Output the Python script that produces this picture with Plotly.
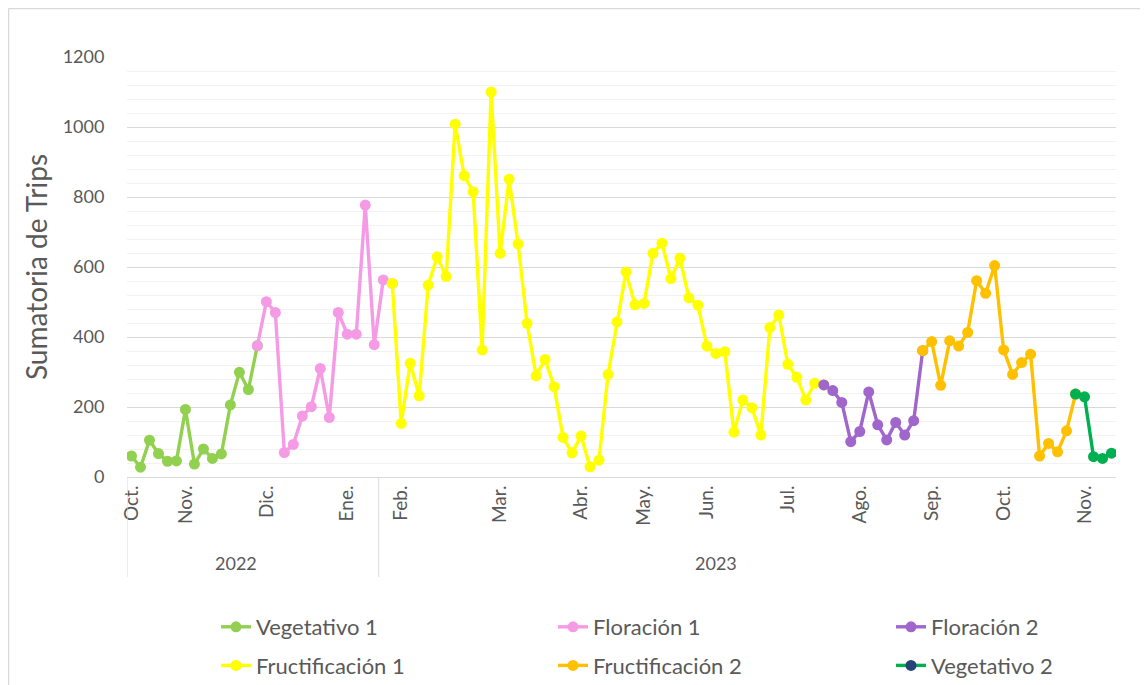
import plotly.graph_objects as go

# ---------------- data ----------------
n_puntos = 110  # observations, category positions 0..109

mes_posiciones = [0, 6, 15, 24, 30, 41, 50, 57, 64, 73, 81, 89, 97, 106]
mes_etiquetas = ["Oct.", "Nov.", "Dic.", "Ene.", "Feb.", "Mar.", "Abr.", "May.",
                 "Jun.", "Jul.", "Ago.", "Sep.", "Oct.", "Nov."]

anios = ["2022", "2023"]
anio_inicio = [0, 28]  # first category index of each year group

vegetativo_1 = [60, 28, 105, 67, 45, 46, 193, 37, 80, 53, 66, 206, 299, 250]
floracion_1 = [375, 501, 470, 70, 93, 174, 201, 310, 170, 470, 408, 408, 777, 378, 563]
fructificacion_1 = [553, 153, 325, 232, 548, 629, 573, 1008, 861, 815, 363, 1100, 639,
                    851, 666, 439, 289, 336, 258, 113, 69, 117, 29, 48, 293, 443, 586,
                    492, 496, 639, 668, 567, 625, 512, 491, 374, 353, 358, 128, 220,
                    198, 120, 427, 463, 322, 285, 220, 268]
floracion_2 = [263, 247, 213, 101, 130, 243, 149, 106, 156, 120, 161]
fructificacion_2 = [361, 387, 262, 389, 374, 413, 561, 525, 604, 363, 293, 327, 351,
                    60, 96, 72, 132]
vegetativo_2 = [237, 229, 58, 53, 68]

series = [
    ("Vegetativo 1", vegetativo_1, "#92D050", "legend"),
    ("Floración 1", floracion_1, "#F59BE6", "legend2"),
    ("Floración 2", floracion_2, "#A066CC", "legend3"),
    ("Fructificación 1", fructificacion_1, "#FFFF00", "legend"),
    ("Fructificación 2", fructificacion_2, "#FFC000", "legend2"),
    ("Vegetativo 2", vegetativo_2, "#00B050", "legend3"),
]
orden_tiempo = ["Vegetativo 1", "Floración 1", "Fructificación 1", "Floración 2",
                "Fructificación 2", "Vegetativo 2"]
color_leyenda_veg2 = "#264478"

# ---------------- build full-length arrays ----------------
valores = {s[0]: s[1] for s in series}
inicio = {}
pos = 0
for nombre in orden_tiempo:
    inicio[nombre] = pos
    pos += len(valores[nombre])

x_idx = list(range(n_puntos))
fig = go.Figure()
FONT = "Lato"
GRIS = "#595959"

for k, nombre in enumerate(orden_tiempo):
    y = [None] * n_puntos
    s0 = inicio[nombre]
    for i, v in enumerate(valores[nombre]):
        y[s0 + i] = v
    # connect to the first point of the next phase
    if k + 1 < len(orden_tiempo):
        nxt = orden_tiempo[k + 1]
        y[inicio[nxt]] = valores[nxt][0]
    info = [s for s in series if s[0] == nombre][0]
    color = info[2]
    if nombre == "Vegetativo 2":
        mcolor = [color_leyenda_veg2 if v is None else color for v in y]
    else:
        mcolor = color
    fig.add_trace(go.Scatter(
        x=x_idx, y=y, name=nombre, mode="lines+markers",
        line=dict(color=color, width=3.4),
        marker=dict(color=mcolor, size=11),
        legend=info[3], legendgroup=nombre,
        connectgaps=False,
    ))

# ---------------- layout ----------------
# page pixels (the html body adds an 8px offset)
OFF = 8
W, H = 1148, 685
PL, PR, PT, PB = 127, 1116, 57, 477   # plot area edges in page pixels
L, T = PL - OFF, PT - OFF
R, B = W - (PR - OFF), H - (PB - OFF)
pw, ph = PR - PL, PB - PT

def px_x(p):
    return (p - PL) / pw

def px_y(p):
    return (PB - p) / ph

leg_common = dict(orientation="v", xanchor="left", yanchor="top",
                  font=dict(family=FONT, size=22, color=GRIS),
                  bgcolor="rgba(0,0,0,0)", traceorder="grouped",
                  tracegroupgap=7, itemwidth=30)

fig.update_layout(
    width=W, height=H,
    margin=dict(l=L, r=R, t=T, b=B, autoexpand=False),
    paper_bgcolor="white", plot_bgcolor="white",
    font=dict(family=FONT, color=GRIS),
    legend=dict(x=px_x(216), y=px_y(606), **leg_common),
    legend2=dict(x=px_x(553), y=px_y(606), **leg_common),
    legend3=dict(x=px_x(891), y=px_y(606), **leg_common),
    xaxis=dict(
        range=[-0.5, n_puntos - 0.5], tickmode="array",
        tickvals=mes_posiciones, ticktext=mes_etiquetas, tickangle=-90,
        tickfont=dict(family=FONT, size=19, color=GRIS),
        showgrid=False, zeroline=False, showline=True, linecolor="#D9D9D9",
        linewidth=1, ticks="",
    ),
    yaxis=dict(
        range=[0, 1200], dtick=200, tick0=0,
        tickfont=dict(family=FONT, size=18, color=GRIS),
        showgrid=True, gridcolor="#D9D9D9", gridwidth=1,
        minor=dict(dtick=40, showgrid=True, gridcolor="#F2F2F2", gridwidth=1),
        zeroline=False, showline=False,
        ticks="outside", ticklen=18, tickcolor="rgba(0,0,0,0)",
        title=dict(text="Sumatoria de Trips", standoff=6,
                   font=dict(family=FONT, size=28, color=GRIS)),
    ),
    showlegend=True,
)

# multi-level category dividers
eje_inf = px_y(577)
for xi in [anio_inicio[0] - 0.5, anio_inicio[1] - 0.5]:
    fig.add_shape(type="line", xref="x", yref="paper", x0=xi, x1=xi,
                  y0=0, y1=eje_inf, line=dict(color="#D9D9D9", width=1))

# year labels
for anio, xc in zip(anios, [11.6, 65.0]):
    fig.add_annotation(text=anio, x=xc, xref="x", y=px_y(563), yref="paper",
                       xanchor="center", yanchor="middle", showarrow=False,
                       font=dict(family=FONT, size=18, color=GRIS))

# chart border (top & left visible)
bx, by = px_x(OFF + 0.5), px_y(OFF + 0.5)
fig.add_shape(type="line", xref="paper", yref="paper", x0=bx, x1=px_x(W + 20),
              y0=by, y1=by, line=dict(color="#D9D9D9", width=1.5))
fig.add_shape(type="line", xref="paper", yref="paper", x0=bx, x1=bx,
              y0=by, y1=px_y(H + 20), line=dict(color="#D9D9D9", width=1.5))

fig.write_html("out.html")
